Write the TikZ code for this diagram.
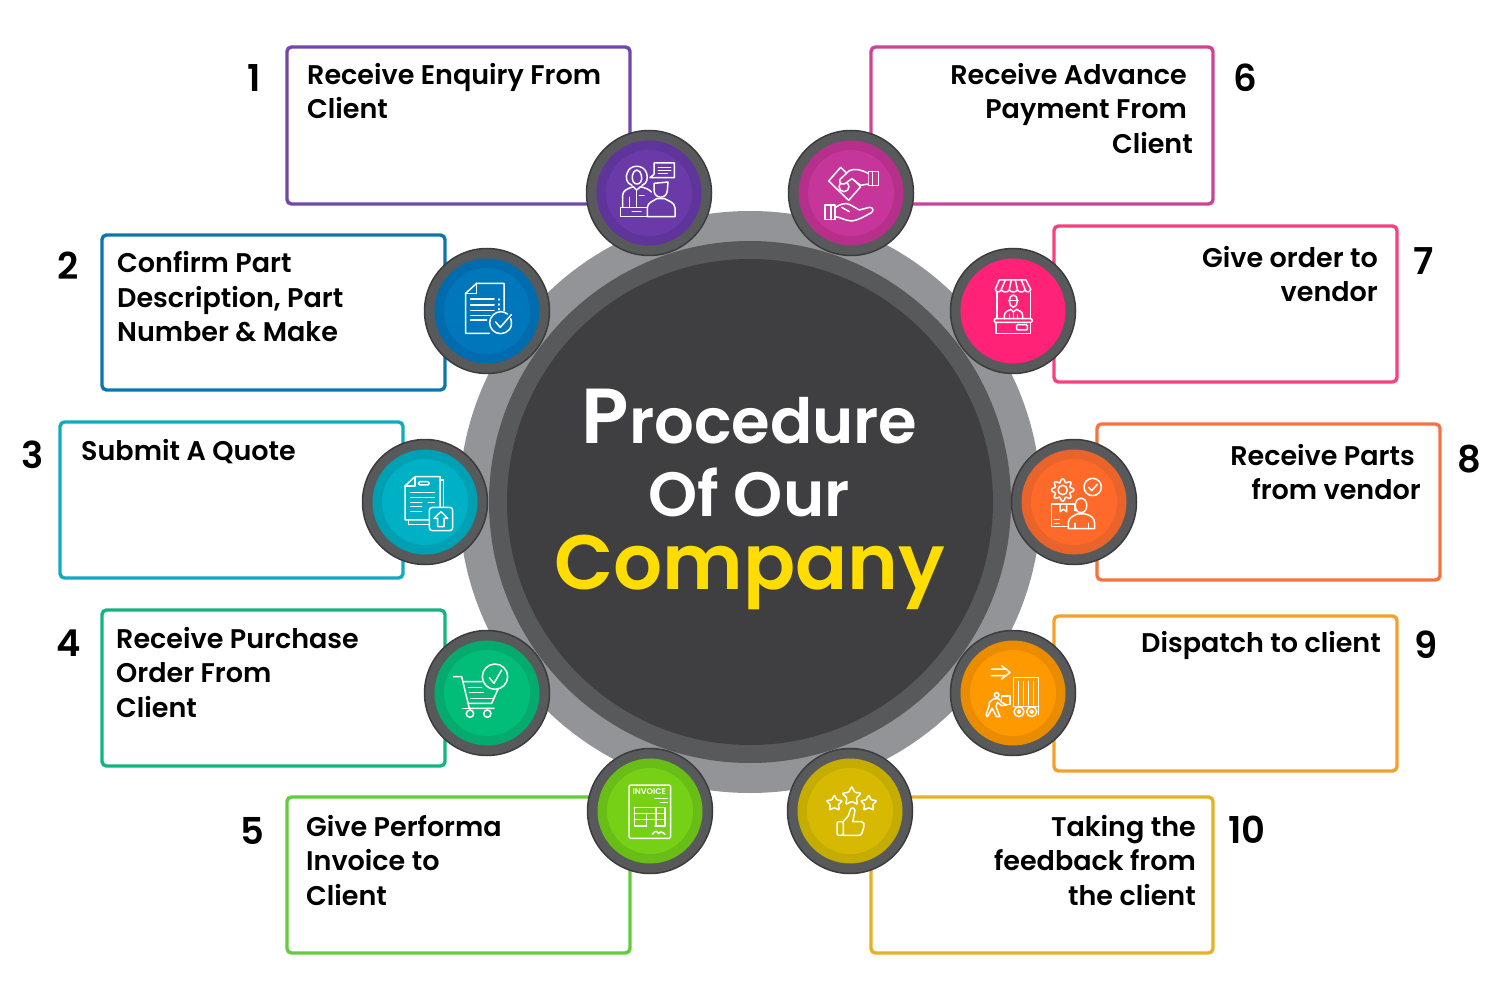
\documentclass[tikz,border=0pt]{standalone}
\usepackage{fontspec}
\setmainfont{Poppins}
\newfontfamily\pops{Poppins SemiBold}
\usetikzlibrary{shapes.geometric}
\definecolor{ringA}{HTML}{929497}
\definecolor{ringB}{HTML}{58595B}
\definecolor{ringC}{HTML}{3F3F41}
\definecolor{rimdark}{HTML}{3C3C3E}
\definecolor{sunny}{HTML}{FFDD00}
\definecolor{cA}{HTML}{6F48A8}\definecolor{dA}{HTML}{5F349B}\definecolor{lA}{HTML}{6A3BA8}
\definecolor{cB}{HTML}{0B75B0}\definecolor{dB}{HTML}{006CAD}\definecolor{lB}{HTML}{0077BA}
\definecolor{cC}{HTML}{0FABC0}\definecolor{dC}{HTML}{00A0B4}\definecolor{lC}{HTML}{00B0C4}
\definecolor{cD}{HTML}{12B57F}\definecolor{dD}{HTML}{05AB6E}\definecolor{lD}{HTML}{02BD78}
\definecolor{cE}{HTML}{62CC3C}\definecolor{dE}{HTML}{68BD16}\definecolor{lE}{HTML}{76D015}
\definecolor{cF}{HTML}{CC4496}\definecolor{dF}{HTML}{B62F8B}\definecolor{lF}{HTML}{C5359A}
\definecolor{cG}{HTML}{F8407F}\definecolor{dG}{HTML}{FF2277}\definecolor{lG}{HTML}{FF2277}
\definecolor{cH}{HTML}{F47340}\definecolor{dH}{HTML}{E8642B}\definecolor{lH}{HTML}{FF6A2A}
\definecolor{cI}{HTML}{F5A02A}\definecolor{dI}{HTML}{EA8C00}\definecolor{lI}{HTML}{FF9900}
\definecolor{cJ}{HTML}{E4B226}\definecolor{dJ}{HTML}{C4AC00}\definecolor{lJ}{HTML}{D6B900}
\tikzset{
  x=1pt,y=-1pt,
  stepcard/.style={draw=#1,line width=3.4pt,rounded corners=4.5pt,fill=white,anchor=north west,
    minimum width=343pt,minimum height=156pt,inner sep=0pt,outer sep=0pt},
  badge/.style={circle,draw=rimdark,line width=1.5pt,fill=ringB,minimum size=125pt,inner sep=0pt,outer sep=0pt},
  lbl/.style={anchor=north west,inner sep=0pt,align=left,font=\pops\fontsize{27}{34.5}\selectfont,text=black},
  lblr/.style={anchor=north east,inner sep=0pt,align=right,font=\pops\fontsize{27}{34.5}\selectfont,text=black},
  numeral/.style={anchor=base,inner sep=0pt,font=\pops\fontsize{37}{37}\selectfont,text=black},
  headline/.style={anchor=base,inner sep=0pt,font=\pops\fontsize{#1}{#1}\selectfont},
  ico/.style={draw=white,line width=1.5pt,line cap=round,line join=round},
  icostar/.style={star,star points=5,star point ratio=2,draw=white,line width=1.5pt,inner sep=0pt,minimum size=#1,rounded corners=1pt},
  zoomA/.style={shift={(570,120)},x=.33333pt,y=-.33333pt},
  zoomB/.style={shift={(350,240)},x=.33333pt,y=-.33333pt},
  zoomC/.style={shift={(940,240)},x=.33333pt,y=-.33333pt},
  zoomD/.style={shift={(420,625)},x=.33333pt,y=-.33333pt},
  zoomE/.style={shift={(780,625)},x=.33333pt,y=-.33333pt},
}
\newcommand{\badgeat}[5]{%
  \node[badge] (#1) at (#2) {};
  \fill[#3] (#2) circle[radius=52.5pt];
  \fill[#4] (#2) circle[radius=#5pt];
}
\newcommand{\fl}{\rule{0pt}{22pt}}
\begin{document}
\begin{tikzpicture}
\useasboundingbox (0,0) rectangle (1500,1000);
\fill[white] (0,0) rectangle (1500,1000);

% step cards
\node[stepcard=cA,minimum height=157pt] (card1) at (287,47) {};
\node[stepcard=cB,minimum height=155pt] (card2) at (102,235) {};
\node[stepcard=cC] (card3) at (60,422) {};
\node[stepcard=cD] (card4) at (102,610) {};
\node[stepcard=cE,minimum height=156pt] (card5) at (287,797) {};
\node[stepcard=cF,minimum width=342pt,minimum height=157pt] (card6) at (871,47) {};
\node[stepcard=cG] (card7) at (1054,226) {};
\node[stepcard=cH] (card8) at (1097,424) {};
\node[stepcard=cI,minimum height=155pt] (card9) at (1054,616) {};
\node[stepcard=cJ,minimum width=342pt] (card10) at (871,797) {};

% central disc
\fill[ringA] (750,502) circle[radius=291pt];
\fill[ringB] (750,502) circle[radius=261pt];
\fill[ringC] (750,502) circle[radius=243pt];

% badges
\badgeat{b1}{649,193}{dA}{lA}{43}
\badgeat{b2}{487,311}{dB}{lB}{43}
\badgeat{b3}{425,502}{dC}{lC}{43}
\badgeat{b4}{487,693}{dD}{lD}{43}
\badgeat{b5}{650,811}{dE}{lE}{43}
\badgeat{b6}{851,193}{dF}{lF}{43}
\badgeat{b7}{1013,311}{dG}{lG}{43}
\badgeat{b8}{1074,502}{dH}{lH}{43}
\badgeat{b9}{1013,693}{dI}{lI}{43}
\badgeat{b10}{850,811}{dJ}{lJ}{43}

% headline
\node[headline=62.4,text=white] (t1) at (749.5,443) {{\fontsize{78}{78}\selectfont P}rocedure};
\node[headline=62.5,text=white] (t2) at (749,516) {Of Our};
\node[headline=77,text=sunny] (t3) at (750,589) {Company};

% step numbers
\node[numeral] (n1) at (254,92) {1};
\node[numeral] (n2) at (68,280) {2};
\node[numeral] (n3) at (33,468) {3};
\node[numeral] (n4) at (69,656) {4};
\node[numeral] (n5) at (252,844) {5};
\node[numeral] (n6) at (1245,91.5) {6};
\node[numeral] (n7) at (1424,274.5) {7};
\node[numeral] (n8) at (1469,472) {8};
\node[numeral] (n9) at (1426,658) {9};
\node[numeral] (n10) at (1247,843) {10};

% step texts
\node[lbl] (l1) at (307,62.3) {\fl Receive Enquiry From\\Client};
\node[lbl] (l2) at (117,250.3) {\fl Confirm Part\\Description, Part\\Number \& Make};
\node[lbl] (l3) at (81,438) {\fl Submit A Quote};
\node[lbl] (l4) at (116,626) {\fl Receive Purchase\\Order From\\Client};
\node[lbl] (l5) at (306,814) {\fl Give Performa\\Invoice to\\Client};
\node[lblr] (l6) at (1193,62.3) {\fl Receive Advance\kern6pt\\Payment From\kern6pt\\Client};
\node[lblr] (l7) at (1378,245.3) {\fl Give order to\\vendor};
\node[lblr] (l8) at (1421,443) {\fl Receive Parts\kern6pt\\from vendor};
\node[lblr] (l9) at (1381,630) {\fl Dispatch to client};
\node[lblr] (l10) at (1196,814) {\fl Taking the\\feedback from\\the client};

% reception desk icon
\begin{scope}[zoomA,ico]
  \draw (186,196) .. controls (168,190) and (166,170) .. (172,158) .. controls (180,132) and (222,132) .. (230,160) .. controls (234,175) and (232,190) .. (216,196);
  \draw (200,150) .. controls (186,152) and (184,178) .. (190,186) .. controls (196,194) and (206,194) .. (212,186) .. controls (218,178) and (216,152) .. (200,150);
  \draw (158,262) -- (158,226) .. controls (158,212) and (172,206) .. (190,200) -- (200,210) -- (212,200) .. controls (226,204) and (238,208) .. (244,216);
  \draw (178,262) -- (178,232) (200,210) -- (200,262) (208,226) -- (222,226);
  \draw (152,262) rectangle (232,290);
  \draw (187,275) -- (213,275);
  \draw[fill=lA] (232,290) -- (232,262) .. controls (234,246) and (250,244) .. (260,236) -- (284,236) .. controls (296,244) and (314,246) .. (315,264) -- (315,290) -- cycle;
  \draw[fill=lA] (252,190) -- (294,186) -- (292,212) .. controls (290,238) and (254,238) .. (252,212) -- cycle;
  \draw (240,173) -- (252,163) -- (252,129) -- (313,129) -- (313,173) -- cycle;
  \draw (265,142) -- (302,142) (265,151) -- (302,151) (265,160) -- (292,160);
\end{scope}

% money in hand icon
\begin{scope}[zoomA,ico]
  \draw (812,142) -- (776,183) -- (836,241) -- (872,200) -- cycle;
  \draw (822,200) circle[radius=15];
  \draw (895,155) rectangle (925,197) (907,155) -- (907,197);
  \draw[fill=lF] (895,160) .. controls (875,150) and (855,144) .. (838,152) -- (810,178) .. controls (804,192) and (822,198) .. (832,186) -- (846,176) -- (872,196) -- (895,192);
  \draw (765,255) rectangle (795,299) (783,255) -- (783,299);
  \draw (795,263) .. controls (808,254) and (826,246) .. (840,254) -- (868,270) -- (898,262) .. controls (910,262) and (912,272) .. (904,278) .. controls (885,288) and (868,300) .. (845,303) .. controls (825,302) and (808,290) .. (795,290);
  \draw (815,262) -- (838,275);
\end{scope}

% checked document icon
\begin{scope}[zoomB,ico]
  \draw (418,280) -- (347,280) -- (347,160) -- (380,130) -- (462,130) -- (462,212);
  \draw (347,160) -- (380,160) -- (380,130);
  \draw (362,177) -- (432,177) (362,195) -- (432,195) (362,212) -- (432,212) (362,226) -- (420,226) (362,240) -- (410,240);
  \draw (447,177) -- (447,180) (447,192) -- (447,195) (447,206) -- (447,209);
  \draw (482,236) .. controls (492,262) and (472,281) .. (452,281) .. controls (432,281) and (419,265) .. (419,248) .. controls (419,230) and (436,215) .. (452,215) .. controls (460,215) and (466,217) .. (472,222);
  \draw (437,246) -- (451,262) -- (484,224);
\end{scope}

% document upload icon
\begin{scope}[zoomB,ico]
  \draw (238,840) -- (165,840) -- (165,738) -- (195,710) -- (270,710) -- (270,800);
  \draw (165,738) -- (195,738) -- (195,710);
  \draw (175,840) -- (175,853) -- (238,853) (270,720) -- (281,720) -- (281,800);
  \draw[rounded corners=1.5pt] (205,725) rectangle (238,735);
  \draw (182,757) -- (253,757) (182,772) -- (253,772) (182,787) -- (215,787) (235,787) -- (253,787) (182,800) -- (215,800) (182,815) -- (215,815);
  \draw[rounded corners=3pt] (238,802) rectangle (308,872);
  \draw (273,815) -- (293,835) -- (282,835) -- (282,860) -- (263,860) -- (263,835) -- (252,835) -- cycle;
\end{scope}

% market stall icon
\begin{scope}[zoomC,ico]
  \draw (178,120) -- (258,120) -- (272,148);
  \draw (178,120) -- (166,148) .. controls (168,158) and (178,158) .. (184,150) .. controls (190,158) and (202,158) .. (208,150) .. controls (214,158) and (226,158) .. (232,150) .. controls (238,158) and (250,158) .. (255,150) .. controls (260,158) and (270,158) .. (272,148);
  \draw (184,148) -- (196,120) (208,148) -- (214,120) (232,148) -- (226,120) (255,148) -- (244,120);
  \draw (171,157) -- (171,236) (272,157) -- (272,236);
  \draw (220,165) .. controls (204,165) and (204,200) .. (220,202) .. controls (236,200) and (236,165) .. (220,165);
  \draw (206,182) -- (234,182);
  \draw (193,236) -- (193,226) .. controls (194,214) and (206,212) .. (212,208) -- (220,216) -- (230,208) .. controls (238,212) and (248,216) .. (248,226) -- (248,236);
  \draw (208,236) -- (208,224) (220,216) -- (220,236) (232,236) -- (232,224);
  \draw[rounded corners=1pt] (163,236) rectangle (276,247);
  \draw (168,247) rectangle (272,280);
  \draw[rounded corners=1pt] (230,254) rectangle (262,270);
\end{scope}

% parts delivery icon
\begin{scope}[zoomC,ico]
  \draw plot[samples=121,domain=0:360,variable=\t,smooth] ({368+(28.5+5*cos(8*\t))*cos(\t)},{750+(28.5+5*cos(8*\t))*sin(\t)}) -- cycle;
  \draw (368,750) circle[radius=14];
  \draw (458,741) circle[radius=26];
  \draw (446,742) -- (455,752) -- (472,733);
  \draw (385,860) -- (335,860) -- (335,792) -- (405,792) -- (405,812);
  \draw (360,792) -- (360,815) -- (370,808) -- (380,815) -- (380,792);
  \draw (343,838) -- (358,838) (343,850) -- (358,850);
  \draw[fill=lH] (385,866) -- (385,846) .. controls (388,830) and (404,826) .. (412,822) -- (436,822) .. controls (450,826) and (464,832) .. (464,850) -- (464,866) -- cycle;
  \draw[fill=lH] (423,775) .. controls (400,775) and (400,818) .. (423,818) .. controls (446,818) and (446,775) .. (423,775);
  \draw (405,866) -- (405,850) (445,866) -- (445,850);
\end{scope}

% shopping cart icon
\begin{scope}[zoomD,ico]
  \draw (100,155) -- (125,155) -- (148,250) -- (222,250);
  \draw (131,170) -- (185,170) (235,190) -- (215,235) -- (143,235);
  \draw (145,187) -- (185,187) (149,203) -- (190,203) (152,220) -- (220,220);
  \draw (150,266) circle[radius=11] (202,266) circle[radius=11];
  \draw (128,250) -- (148,250);
  \draw (225,155) circle[radius=38];
  \draw (208,158) -- (222,175) -- (245,135);
\end{scope}

% invoice icon
\begin{scope}[zoomD,ico]
  \draw[rounded corners=1.5pt] (627,480) rectangle (752,640);
  \node[inner sep=0pt,text=white,font=\pops\fontsize{8.2}{9}\selectfont] (invoiceword) at (688,499) {INVOICE};
  \draw (705,520) -- (742,520) (722,532) -- (742,532);
  \draw (643,547) -- (735,547) -- (735,603) -- (705,603) (680,603) -- (643,603) -- (643,547);
  \draw (643,565) -- (735,565) (643,584) -- (735,584) (708,547) -- (708,603) (680,565) -- (680,603);
  \draw (697,628) .. controls (705,615) and (712,618) .. (716,626) .. controls (720,618) and (726,620) .. (735,628);
\end{scope}

% dispatch icon
\begin{scope}[zoomE,ico]
  \draw (633,132) -- (680,132) (633,152) -- (680,152) (665,122) -- (690,142) -- (665,162);
  \draw (700,245) -- (700,158) -- (776,158) -- (776,268);
  \draw (715,170) -- (715,240) (730,170) -- (730,240) (745,170) -- (745,240) (760,170) -- (760,240);
  \draw (700,245) -- (776,245);
  \draw (717,260) circle[radius=15] (717,260) circle[radius=5] (755,260) circle[radius=15] (755,260) circle[radius=5];
  \draw (650,210) circle[radius=7];
  \draw (640,222) -- (655,220) -- (665,232) -- (680,240) -- (665,242) -- (652,232) -- (648,245) -- (660,275) -- (650,275) -- (636,250) -- (630,262) -- (622,275) -- (618,270) -- (628,240) -- (628,232) -- cycle;
  \draw (665,213) -- (690,213) -- (690,238) -- (678,238) (665,213) -- (665,228);
\end{scope}

% feedback icon
\begin{scope}[zoomE,ico]
  \node[icostar=20pt] (starA) at (215,514) {};
  \node[icostar=17pt] (starB) at (163,535) {};
  \node[icostar=17pt] (starC) at (266,535) {};
  \draw[rounded corners=1.5pt] (171,590) rectangle (190,631);
  \draw (190,590) -- (205,572) -- (212,552) .. controls (218,544) and (228,552) .. (224,562) -- (218,590) -- (244,590) .. controls (252,590) and (254,598) .. (252,604) -- (246,624) .. controls (244,630) and (240,631) .. (236,631) -- (190,631);
\end{scope}
\end{tikzpicture}
\end{document}
